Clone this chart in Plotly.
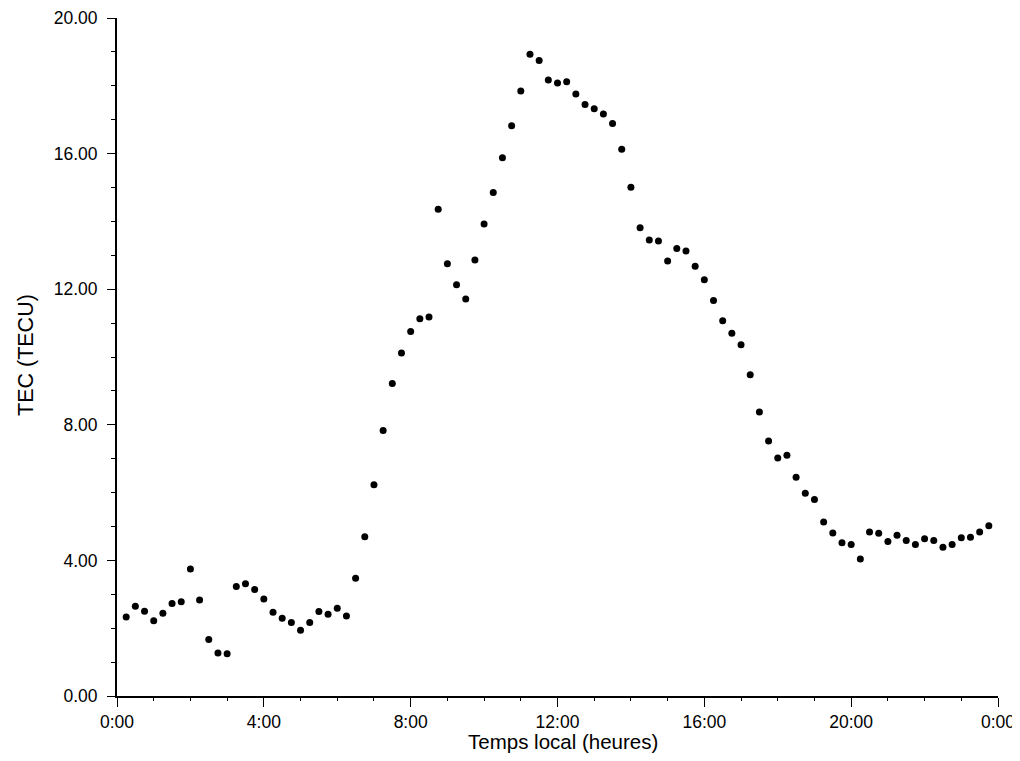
import plotly.graph_objects as go

# Local time (hours) of each measurement
hours = [0.25, 0.5, 0.75, 1.0, 1.25, 1.5, 1.75, 2.0, 2.25, 2.5, 2.75, 3.0,
         3.25, 3.5, 3.75, 4.0, 4.25, 4.5, 4.75, 5.0, 5.25, 5.5, 5.75, 6.0,
         6.25, 6.5, 6.75, 7.0, 7.25, 7.5, 7.75, 8.0, 8.25, 8.5, 8.75, 9.0,
         9.25, 9.5, 9.75, 10.0, 10.25, 10.5, 10.75, 11.0, 11.25, 11.5, 11.75, 12.0,
         12.25, 12.5, 12.75, 13.0, 13.25, 13.5, 13.75, 14.0, 14.25, 14.5, 14.75, 15.0,
         15.25, 15.5, 15.75, 16.0, 16.25, 16.5, 16.75, 17.0, 17.25, 17.5, 17.75, 18.0,
         18.25, 18.5, 18.75, 19.0, 19.25, 19.5, 19.75, 20.0, 20.25, 20.5, 20.75, 21.0,
         21.25, 21.5, 21.75, 22.0, 22.25, 22.5, 22.75, 23.0, 23.25, 23.5, 23.75]

# TEC values (TECU)
tec = [2.33, 2.65, 2.50, 2.22, 2.44, 2.73, 2.78, 3.75, 2.83, 1.67, 1.27, 1.25,
       3.23, 3.31, 3.14, 2.86, 2.47, 2.29, 2.17, 1.94, 2.17, 2.49, 2.41, 2.59,
       2.36, 3.47, 4.70, 6.23, 7.83, 9.22, 10.12, 10.75, 11.13, 11.18, 14.36, 12.75,
       12.13, 11.71, 12.86, 13.92, 14.85, 15.88, 16.82, 17.85, 18.93, 18.75, 18.17, 18.08,
       18.12, 17.76, 17.45, 17.32, 17.17, 16.89, 16.13, 15.01, 13.81, 13.45, 13.42, 12.83,
       13.20, 13.13, 12.68, 12.28, 11.67, 11.07, 10.70, 10.36, 9.48, 8.38, 7.52, 7.02,
       7.10, 6.45, 5.98, 5.80, 5.13, 4.81, 4.52, 4.47, 4.04, 4.84, 4.80, 4.56,
       4.74, 4.59, 4.47, 4.64, 4.59, 4.39, 4.47, 4.67, 4.68, 4.84, 5.02]

x_tickvals = [0, 4, 8, 12, 16, 20, 24]
x_ticktext = ["0:00", "4:00", "8:00", "12:00", "16:00", "20:00", "0:00"]
y_tickvals = [0, 4, 8, 12, 16, 20]
y_ticktext = ["0.00", "4.00", "8.00", "12.00", "16.00", "20.00"]

x_title = "Temps local (heures)"
y_title = "TEC (TECU)"

FONT = "Liberation Sans, Arial, sans-serif"

fig = go.Figure()
fig.add_trace(go.Scatter(
    x=hours, y=tec, mode="markers",
    marker=dict(color="black", size=7, line=dict(width=0)),
    showlegend=False, cliponaxis=False,
))

# page body has an 8px margin; size the figure so the page does not scroll
fig.update_layout(
    width=1012, height=745,
    margin=dict(l=109, r=22, t=10, b=57),
    paper_bgcolor="white", plot_bgcolor="white",
    font=dict(family=FONT, color="black"),
)

fig.update_xaxes(
    range=[0, 24], tickmode="array", tickvals=x_tickvals, ticktext=x_ticktext,
    showgrid=False, zeroline=False, showline=True, linecolor="black", linewidth=1.5,
    ticks="outside", ticklen=9, tickwidth=1, tickcolor="black",
    tickfont=dict(size=17.5, family=FONT, color="black"),
    minor=dict(dtick=1, ticks="outside", ticklen=3, tickwidth=1, tickcolor="black", showgrid=False),
    automargin=False,
)

fig.update_yaxes(
    range=[0, 20], tickmode="array", tickvals=y_tickvals, ticktext=y_ticktext,
    showgrid=False, zeroline=False, showline=True, linecolor="black", linewidth=2,
    ticks="outside", ticklen=8, tickwidth=1, tickcolor="black",
    tickfont=dict(size=17.5, family=FONT, color="black"),
    ticklabelstandoff=6,
    minor=dict(dtick=1, ticks="outside", ticklen=4, tickwidth=1, tickcolor="black", showgrid=False),
    automargin=False,
)

fig.add_annotation(
    text=x_title, xref="paper", yref="paper", x=0.5, y=0,
    xanchor="center", yanchor="middle", xshift=5, yshift=-45,
    showarrow=False, font=dict(size=20.5, family=FONT, color="black"),
)
fig.add_annotation(
    text=y_title, xref="paper", yref="paper", x=0, y=0.5,
    xanchor="center", yanchor="middle", xshift=-91, yshift=2, textangle=-90,
    showarrow=False, font=dict(size=21.5, family=FONT, color="black"),
)

fig.write_html("out.html")
